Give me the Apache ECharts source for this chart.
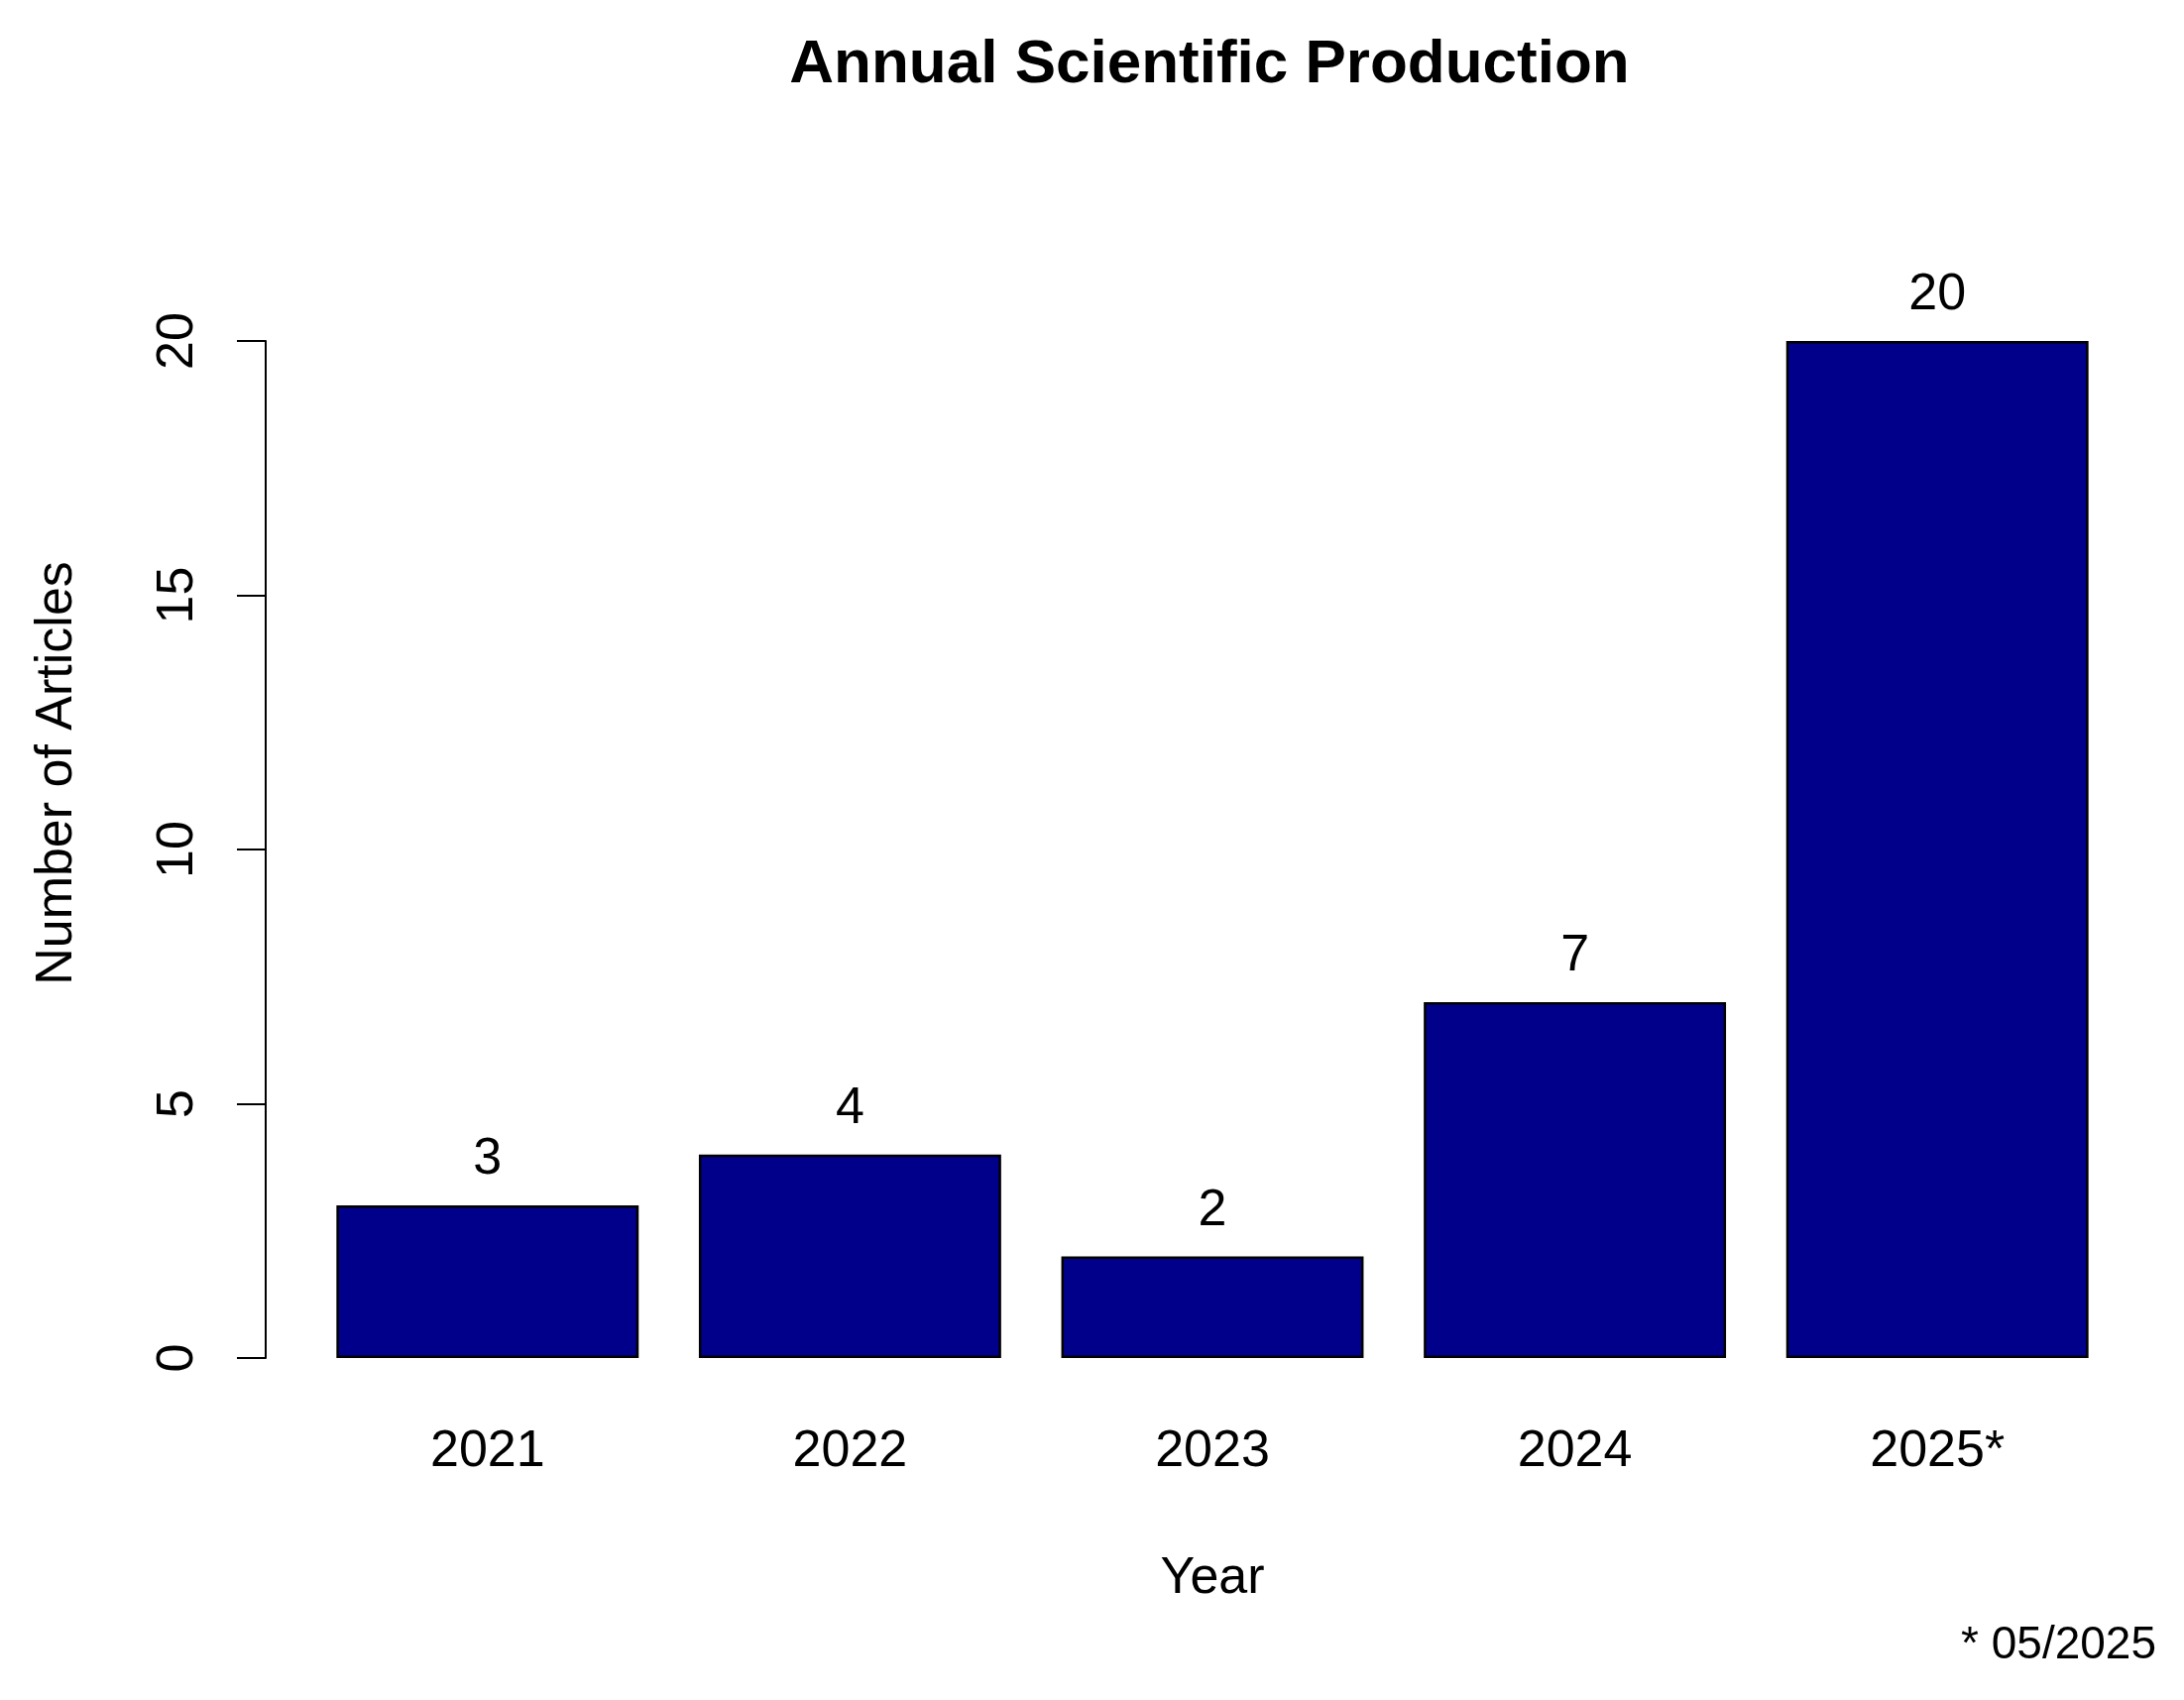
<!DOCTYPE html>
<html>
<head>
<meta charset="utf-8">
<script src="https://cdn.jsdelivr.net/npm/echarts@6/dist/echarts.min.js"></script>
<style>html,body{margin:0;padding:0;background:#fff;}#c{width:2203px;height:1715px;}</style>
</head>
<body>
<div id="c"></div>
<script>
const categories = ['2021', '2022', '2023', '2024', '2025*'];
const articles = [3, 4, 2, 7, 20];
const yTicks = [0, 5, 10, 15, 20];

const FONT = 'Liberation Sans, Arial, sans-serif';
const chart = echarts.init(document.getElementById('c'), null, {renderer: 'canvas'});
chart.setOption({
  backgroundColor: '#fff',
  animation: false,
  title: [{
    text: 'Annual Scientific Production',
    left: 1215, top: 30, textAlign: 'center',
    textStyle: {fontFamily: FONT, fontSize: 62, fontWeight: 'bold', color: '#000'}
  }, {
    text: '* 05/2025',
    right: 23, top: 1632,
    textStyle: {fontFamily: FONT, fontSize: 46, fontWeight: 'normal', color: '#000'}
  }],
  grid: {left: 309, right: 66, top: 344, bottom: 345, containLabel: false},
  xAxis: {
    type: 'category',
    data: categories,
    boundaryGap: true,
    axisLine: {show: false},
    axisTick: {show: false},
    axisLabel: {fontFamily: FONT, fontSize: 52, color: '#000', margin: 69},
    name: 'Year',
    nameLocation: 'middle',
    nameGap: 197,
    nameTextStyle: {fontFamily: FONT, fontSize: 52, color: '#000'}
  },
  yAxis: {
    type: 'value',
    min: yTicks[0], max: yTicks[yTicks.length - 1], interval: 5,
    offset: 41,
    splitLine: {show: false},
    axisLine: {show: true, lineStyle: {color: '#000', width: 2}},
    axisTick: {show: true, length: 29, lineStyle: {color: '#000', width: 2}},
    axisLabel: {fontFamily: FONT, fontSize: 52, color: '#000', rotate: 90, margin: 62},
    name: 'Number of Articles',
    nameLocation: 'middle',
    nameGap: 184,
    nameRotate: 90,
    nameTextStyle: {fontFamily: FONT, fontSize: 52, color: '#000', padding: [0, 0, 0, 154]}
  },
  series: [{
    type: 'bar',
    data: articles,
    barWidth: '83.4%',
    itemStyle: {color: '#00008B', borderColor: '#000', borderWidth: 2.5},
    label: {show: true, position: 'top', distance: 20, fontFamily: FONT, fontSize: 52, color: '#000'}
  }]
});
</script>
</body>
</html>
